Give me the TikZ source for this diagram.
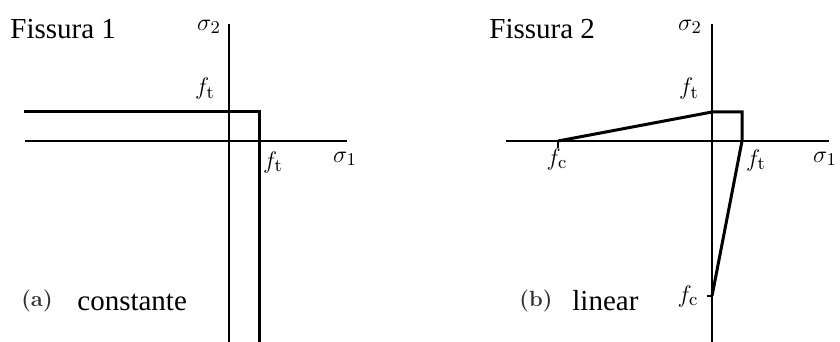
\documentclass[tikz,border=0pt]{standalone}
\usepackage{fontspec}
\newfontfamily\timesfont{Liberation Serif}
\usetikzlibrary{positioning}
\tikzstyle{axis} = [line width=0.65pt]
\tikzstyle{envelope} = [line width=1.5pt, line join=miter]
\tikzstyle{tick} = [line width=0.65pt]
\tikzstyle{sym} = [font=\fontsize{13}{15}\selectfont, inner sep=0pt]
\tikzstyle{title} = [font=\timesfont\fontsize{14.5}{17}\selectfont, inner sep=0pt, anchor=base west]
\tikzstyle{tag} = [font=\bfseries\fontsize{11}{13}\selectfont, text=black!80, inner sep=0pt]

\begin{document}
\begin{tikzpicture}[x=0.5pt, y=-0.5pt]
\useasboundingbox (0,0) rectangle (840,342);

% Panel (a): constant
\coordinate (aN) at (229,24);
\coordinate (aS) at (229,342);
\coordinate (aW) at (25,141);
\coordinate (aE) at (347,141);
\draw [axis] (aN) -- (aS);
\draw [axis] (aW) -- (aE);

\coordinate (aL) at (24,112);
\coordinate (aC) at (259,112);
\coordinate (aB) at (259,342);
\draw [envelope] (aL) -- (aC) -- (aB);

\node (atitle) [title] at (10,39) {Fissura 1};
\node (asigtwo) [sym] at (209,27) {$\sigma_2$};
\node (aftup) [sym] at (205,89) {$f_{\rm t}$};
\node (aftright) [sym] at (273,162) {$f_{\rm t}$};
\node (asigone) [sym] at (345,159) {$\sigma_1$};
\node (atag) [tag] at (37,301) {(a)};
\node (aname) [title] at (77,310) {constante};

% Panel (b): linear
\coordinate (bN) at (712,24);
\coordinate (bS) at (712,342);
\coordinate (bW) at (506,141);
\coordinate (bE) at (829,141);
\draw [axis] (bN) -- (bS);
\draw [axis] (bW) -- (bE);

\coordinate (bFcx) at (558,141);
\coordinate (bTop) at (712,112);
\coordinate (bC) at (742,112);
\coordinate (bFt) at (742,141);
\coordinate (bFcy) at (712,296);
\draw [envelope] (bFcx) -- (bTop) -- (bC) -- (bFt) -- (bFcy);

% ticks
\draw [tick] (bFcx) -- ++(0,7);
\draw [tick] (bFcy) -- ++(-5,0);

\node (btitle) [title] at (489,39) {Fissura 2};
\node (bsigtwo) [sym] at (690,27) {$\sigma_2$};
\node (bftup) [sym] at (689,89) {$f_{\rm t}$};
\node (bfcleft) [sym] at (557,159) {$f_{\rm c}$};
\node (bftright) [sym] at (756,160) {$f_{\rm t}$};
\node (bsigone) [sym] at (825,159) {$\sigma_1$};
\node (bfcdown) [sym] at (688,296) {$f_{\rm c}$};
\node (btag) [tag] at (536,301) {(b)};
\node (bname) [title] at (572,310) {linear};

\end{tikzpicture}
\end{document}
